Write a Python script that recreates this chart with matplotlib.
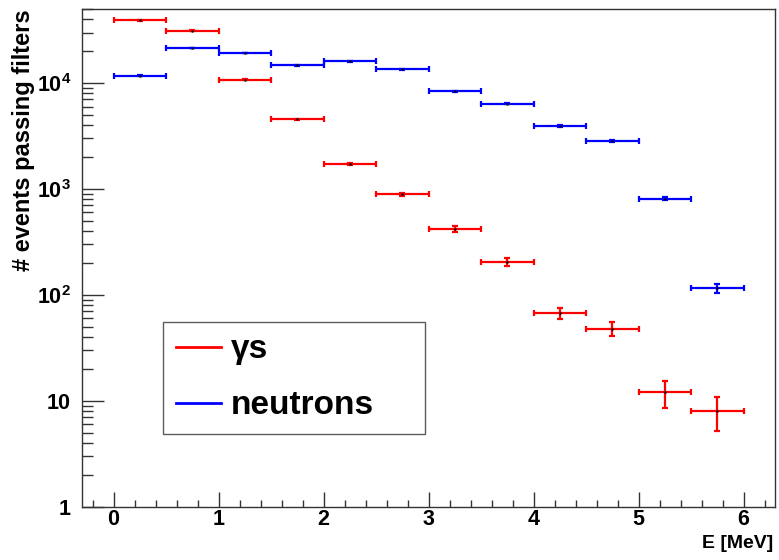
# Events passing filters vs. energy, gammas and neutrons (log scale)
# ----------------------------------------------------------------------------------------------------------------------
import matplotlib
matplotlib.use("Agg")
import matplotlib.pyplot as plt
from matplotlib.lines import Line2D
from matplotlib.ticker import FixedLocator, LogLocator, NullFormatter
# ----------------------------------------------------------------------------------------------------------------------

# Bin Centres & Half Widths (MeV)
e_centre = [0.25, 0.75, 1.25, 1.75, 2.25, 2.75, 3.25, 3.75, 4.25, 4.75, 5.25, 5.75]
e_half   = [0.25] * 12

# Gamma Counts & Errors
gamma_n   = [39000, 31200, 10800, 4540, 1710, 890, 420, 205, 67, 48, 12, 8]
gamma_err = [200, 180, 100, 70, 40, 30, 27, 17, 8.2, 7, 3.5, 2.8]

# Neutron Counts & Errors
neutron_n   = [11700, 21400, 19200, 14700, 16100, 13500, 8350, 6400, 3930, 2860, 810, 115]
neutron_err = [110, 150, 140, 120, 130, 115, 120, 80, 110, 70, 25, 10.7]

# Tick Labels
x_ticks  = [0, 1, 2, 3, 4, 5, 6]
y_ticks  = [1, 10, 100, 1000, 10000]
y_labels = ["1", "10", r"$\mathbf{10^{2}}$", r"$\mathbf{10^{3}}$", r"$\mathbf{10^{4}}$"]

# Fonts: Bold Helvetica-Like Everywhere
plt.rcParams["font.family"]      = ["Liberation Sans", "DejaVu Sans"]
plt.rcParams["font.weight"]      = "bold"
plt.rcParams["mathtext.fontset"] = "custom"
plt.rcParams["mathtext.rm"]      = "Liberation Sans:bold"
plt.rcParams["mathtext.bf"]      = "Liberation Sans:bold"

fig = plt.figure(figsize=(7.79, 5.60), dpi=100)
ax  = fig.add_axes([0.1053, 0.0952, 0.8896, 0.8887])

# Plot Both Histograms As Error Crosses
for vals, errs, color in [(gamma_n, gamma_err, "#ff0000"), (neutron_n, neutron_err, "#0000ff")]:
    ax.errorbar(e_centre, vals, xerr=e_half, yerr=errs, fmt="none", ecolor=color,
                elinewidth=1.6, capsize=2.5, capthick=1.6)
    ax.plot(e_centre, vals, ls="none", marker=".", ms=1.5, color="black")

# Axis Styling
ax.set_yscale("log")
ax.set_xlim(-0.3, 6.3)
ax.set_ylim(1, 5e4)

ax.xaxis.set_major_locator(FixedLocator(x_ticks))
ax.set_xticklabels([str(t) for t in x_ticks])
ax.xaxis.set_minor_locator(FixedLocator([i * 0.2 - 0.2 for i in range(34)]))
ax.yaxis.set_major_locator(FixedLocator(y_ticks))
ax.set_yticklabels(y_labels)
ax.yaxis.set_minor_locator(LogLocator(base=10, subs=range(2, 10), numticks=20))
ax.yaxis.set_minor_formatter(NullFormatter())

ax.tick_params(axis="both", which="both", direction="in", top=False, right=False,
               labelsize=15.5, width=1.0, color="#333333")
ax.tick_params(axis="y", which="major", length=15.5, pad=8)
ax.tick_params(axis="y", which="minor", length=8.0)
ax.tick_params(axis="x", which="major", length=10.5, pad=2)
ax.tick_params(axis="x", which="minor", length=5.0)

for sp in ax.spines.values():
    sp.set_linewidth(1.0)
    sp.set_color("#333333")

# Axis Labels Pushed To The Ends
ax.set_ylabel("# events passing filters", fontsize=17, fontweight="bold", loc="top")
ax.yaxis.set_label_coords(-0.068, 1.0)
ax.set_xlabel("E [MeV]", fontsize=14, fontweight="bold", loc="right")
ax.xaxis.set_label_coords(0.997, -0.056)

# Legend Box
handles = [Line2D([0], [0], color="#ff0000", lw=2, label="γs"),
           Line2D([0], [0], color="#0000ff", lw=2, label="neutrons")]
leg = ax.legend(handles=handles, loc="upper left", bbox_to_anchor=(0.117, 0.372, 0.378, 0.0),
                mode="expand", fontsize=24, frameon=True, fancybox=False, shadow=False,
                handlelength=1.35, handletextpad=0.3, borderpad=0.38,
                labelspacing=0.75, borderaxespad=0)
leg.get_frame().set_edgecolor("#333333")
leg.get_frame().set_linewidth(1.0)
for txt in leg.get_texts():
    txt.set_fontweight("bold")

plt.savefig("out.png", dpi=100)
